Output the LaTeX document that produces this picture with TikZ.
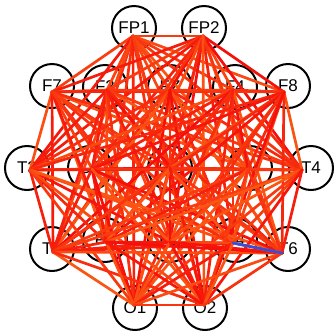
\documentclass[tikz,border=0pt]{standalone}
\usepackage{fontspec}
\setmainfont{Liberation Sans}
\definecolor{myred}{RGB}{245,15,10}
\definecolor{myorange}{RGB}{255,125,25}
\definecolor{myblue}{RGB}{50,80,220}
\begin{document}
\begin{tikzpicture}[x=1pt,y=-1pt,
  elec/.style={circle,draw=black,line width=2pt,minimum size=44pt,inner sep=0pt,font=\fontsize{17}{17}\selectfont},
  link/.style={line width=2.7pt,line cap=round}]
\useasboundingbox[fill=white] (0,0) rectangle (335,333);
\pgfmathsetseed{12}
\foreach \n/\x/\y/\ex/\ey/\t in {
  FP1/134/28/133/36/FP1, FP2/204/28/203/36/FP2,
  F7/52/86/52/92/F7, F3/105/87/107/90/F3, Fz/170/87/170/90/FZ, F4/235/87/233/90/F4, F8/288/86/284/92/F8,
  T3/27/168/30/170/T3, C3/90/168/92/169/C3, Cz/170/168/170/168/CZ, C4/250/168/248/169/C4, T4/311/168/302/170/T4,
  T5/52/249/53/252/T5, P3/105/240/106/242/P3, Pz/170/240/170/242/PZ, P4/235/240/233/243/P4, T6/288/249/282/253/T6,
  O1/135/308/134/305/O1, O2/205/308/204/305/O2}
{\node[elec] (\n) at (\x,\y) {\t}; \coordinate (e\n) at (\ex,\ey);}
\foreach \a [count=\i] in {FP1,FP2,F7,F3,Fz,F4,F8,T3,C3,Cz,C4,T4,T5,P3,Pz,P4,T6,O1,O2}{
  \foreach \b [count=\j] in {FP1,FP2,F7,F3,Fz,F4,F8,T3,C3,Cz,C4,T4,T5,P3,Pz,P4,T6,O1,O2}{
    \ifnum\j>\i
      \pgfmathrandominteger{\r}{35}{100}
      \draw[link,draw=myred!\r!myorange] (e\a) -- (e\b);
    \fi
  }
}
\draw[link,draw=myblue] (eP4) -- (eT6);
\end{tikzpicture}
\end{document}
